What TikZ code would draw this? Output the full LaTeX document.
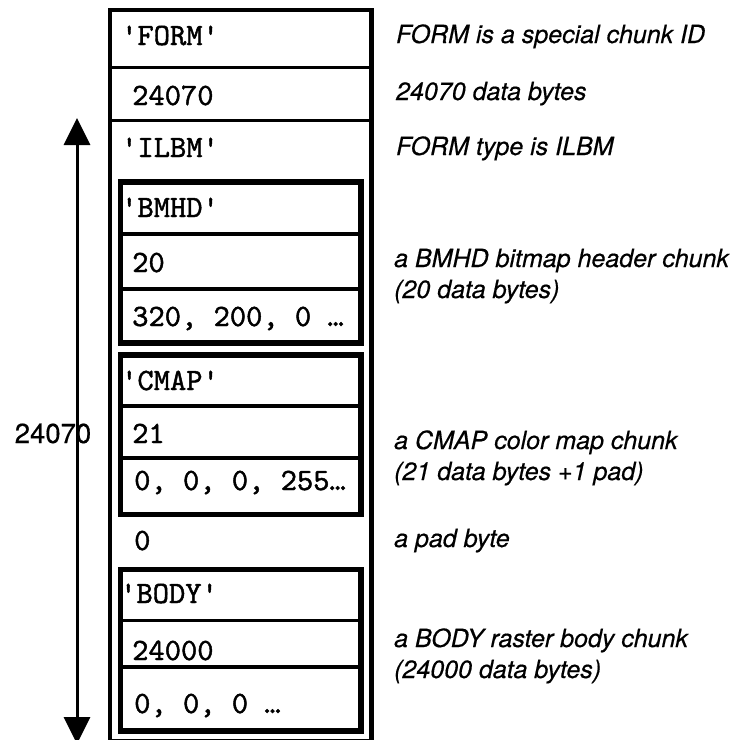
\documentclass[tikz,border=0pt]{standalone}
\usepackage{fontspec}
\setsansfont{TeX Gyre Heros}[FakeBold=0.5]
\setmonofont{lmmono10-regular}[Extension=.otf,FakeBold=1.4]
\usetikzlibrary{arrows.meta}

\newcommand{\notefont}{\fontsize{25}{31}\selectfont\sffamily\itshape}
\newcommand{\cellfont}{\fontsize{31}{33}\selectfont\ttfamily}
\newcommand{\sizefont}{\fontsize{27.5}{30}\selectfont\sffamily}

\begin{document}
\begin{tikzpicture}[x=1pt,y=-1pt,>={Triangle[width=26pt,length=27pt]},
  cell/.style={anchor=base west,inner sep=0pt,font=\cellfont},
  note/.style={anchor=base west,inner sep=0pt,align=left,font=\notefont},
  chunk/.style={line width=5.5pt},
  sep/.style={line width=3.5pt}]
\useasboundingbox (0,0) rectangle (751,739);

% the FORM container
  \draw[line width=4.5pt] (110,10) rectangle (371.5,741);
  \draw[sep] (110,67.5) -- (371.5,67.5);
  \draw[sep] (110,120.5) -- (371.5,120.5);

% the chunks inside it
  \draw[chunk] (120.5,182) rectangle (361,343);
  \draw[sep] (120.5,234) -- (361,234);
  \draw[sep] (120.5,289) -- (361,289);
  \draw[chunk] (120.5,355) rectangle (361,514.5);
  \draw[sep] (120.5,406) -- (361,406);
  \draw[sep] (120.5,458) -- (361,458);
  \draw[chunk] (120.5,569.5) rectangle (361,731);
  \draw[sep] (120.5,620.5) -- (361,620.5);
  \draw[sep] (120.5,667) -- (361,667);

% the bytes
  \node[cell] (form)  at (121,45)  {'FORM'};
  \node[cell] (len)   at (132,105) {24070};
  \node[cell] (ilbm)  at (121,157) {'ILBM'};
  \node[cell] (bmhd)  at (121,217) {'BMHD'};
  \node[cell] (bmlen) at (132,272) {20};
  \node[cell] (bmdat) at (132,326) {320, 200, 0 …};
  \node[cell] (cmap)  at (121,390) {'CMAP'};
  \node[cell] (cmlen) at (132,443) {21};
  \node[cell] (cmdat) at (134,490) {0, 0, 0, 255…};
  \node[cell] (pad)   at (134,550) {0};
  \node[cell] (body)  at (120,603) {'BODY'};
  \node[cell] (bdlen) at (132,660) {24000};
  \node[cell] (bddat) at (134,713) {0, 0, 0 …};

% the notes
  \node[note] (nform) at (396,43)  {FORM is a special chunk ID};
  \node[note] (nlen)  at (396,100) {24070 data bytes};
  \node[note] (nilbm) at (396,155) {FORM type is ILBM};
  \node[note] (nbmhd) at (394,298) {a BMHD bitmap header chunk\\(20 data bytes)};
  \node[note] (ncmap) at (394,480) {a CMAP color map chunk\\(21 data bytes +1 pad)};
  \node[note] (npad)  at (394,547) {a pad byte};
  \node[note] (nbody) at (394,678) {a BODY raster body chunk\\(24000 data bytes)};

% the size arrow
  \coordinate (atop) at (77,118);
  \coordinate (abot) at (77,744);
  \draw[<->,line width=3pt] (atop) -- (abot);
  \node[anchor=base,inner sep=0pt,font=\sizefont] (size) at (53,443) {24070};

\end{tikzpicture}
\end{document}
